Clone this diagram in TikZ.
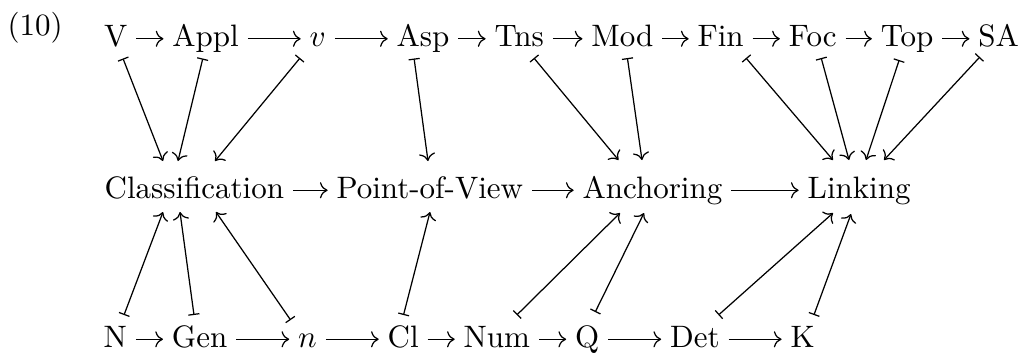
\documentclass[tikz,border=0pt]{standalone}
\usetikzlibrary{arrows.meta}
\begin{document}
\begin{tikzpicture}[x=0.32258pt,y=-0.32258pt,
  lbl/.style={inner sep=0pt,anchor=base west,text height=6.94pt,text depth=1.94pt},
  cmtip/.tip={Computer Modern Rightarrow},
  harr/.style={-cmtip,shorten <=2.7pt,shorten >=2.7pt},
  mapsto/.style={{Bar[width=3.6pt]}-cmtip}]
\useasboundingbox (0,0) rectangle (1023,352);

% example number
\node[lbl] (num) at (7,35) {(10)};

% verbal spine
\node[lbl] (V)    at (103.5,46.5) {V};
\node[lbl] (Appl) at (171.8,46.5) {Appl};
\node[lbl] (v)    at (309.0,46.5) {$v$};
\node[lbl] (Asp)  at (396.1,46.5) {Asp};
\node[lbl] (Tns)  at (493.9,46.5) {Tns};
\node[lbl] (Mod)  at (590.8,46.5) {Mod};
\node[lbl] (Fin)  at (697.0,46.5) {Fin};
\node[lbl] (Foc)  at (788.2,46.5) {Foc};
\node[lbl] (Top)  at (880.2,46.5) {Top};
\node[lbl] (SA)   at (977.8,46.5) {SA};

% universal spine
\node[lbl] (Cls) at (104,198) {Classification};
\node[lbl] (PoV) at (336,198) {Point-of-View};
\node[lbl] (Anc) at (582,198) {Anchoring};
\node[lbl] (Lnk) at (807,198) {Linking};

% nominal spine
\node[lbl] (N)   at (103,347)   {N};
\node[lbl] (Gen) at (171.3,347) {Gen};
\node[lbl] (n)   at (297.6,347) {$n$};
\node[lbl] (Cl)  at (387.1,347) {Cl};
\node[lbl] (Num) at (463.1,347) {Num};
\node[lbl] (Q)   at (574.5,347) {Q};
\node[lbl] (Det) at (669.5,347) {Det};
\node[lbl] (K)   at (789.9,347) {K};

% horizontal arrows
\draw[harr] (V) -- (Appl);
\draw[harr] (Appl) -- (v);
\draw[harr] (v) -- (Asp);
\draw[harr] (Asp) -- (Tns);
\draw[harr] (Tns) -- (Mod);
\draw[harr] (Mod) -- (Fin);
\draw[harr] (Fin) -- (Foc);
\draw[harr] (Foc) -- (Top);
\draw[harr] (Top) -- (SA);

\draw[harr] (Cls) -- (PoV);
\draw[harr] (PoV) -- (Anc);
\draw[harr] (Anc) -- (Lnk);

\draw[harr] (N) -- (Gen);
\draw[harr] (Gen) -- (n);
\draw[harr] (n) -- (Cl);
\draw[harr] (Cl) -- (Num);
\draw[harr] (Num) -- (Q);
\draw[harr] (Q) -- (Det);
\draw[harr] (Det) -- (K);

% verbal heads to universal categories
\draw[mapsto] ([shift={(19.5,12)}]V.base west)   -- ([shift={(59,-37)}]Cls.base west);
\draw[mapsto] ([shift={(31,12)}]Appl.base west)  -- ([shift={(74,-37)}]Cls.base west);
\draw[mapsto] ([shift={(-9,11.5)}]v.base west)   -- ([shift={(111,-37)}]Cls.base west);
\draw[mapsto] ([shift={(18,12)}]Asp.base west)   -- ([shift={(92,-37)}]PoV.base west);
\draw[mapsto] ([shift={(40,11.5)}]Tns.base west) -- ([shift={(36.5,-38)}]Anc.base west);
\draw[mapsto] ([shift={(36.6,11.5)}]Mod.base west) -- ([shift={(60,-38)}]Anc.base west);
\draw[mapsto] ([shift={(49,11.5)}]Fin.base west) -- ([shift={(26,-38)}]Lnk.base west);
\draw[mapsto] ([shift={(33,11.5)}]Foc.base west) -- ([shift={(42,-38)}]Lnk.base west);
\draw[mapsto] ([shift={(19,13.5)}]Top.base west) -- ([shift={(59,-38)}]Lnk.base west);
\draw[mapsto] ([shift={(2,10.5)}]SA.base west)   -- ([shift={(77,-38)}]Lnk.base west);

% nominal heads to universal categories
\draw[mapsto] ([shift={(21,-32)}]N.base west)     -- ([shift={(59,14)}]Cls.base west);
\draw[mapsto] ([shift={(22.7,-32)}]Gen.base west) -- ([shift={(76,14)}]Cls.base west);
\draw[mapsto] ([shift={(-7,-27)}]n.base west)     -- ([shift={(112,14)}]Cls.base west);
\draw[mapsto] ([shift={(16.4,-32)}]Cl.base west)  -- ([shift={(94,14)}]PoV.base west);
\draw[mapsto] ([shift={(53.7,-32)}]Num.base west) -- ([shift={(38,15)}]Anc.base west);
\draw[mapsto] ([shift={(20.7,-35)}]Q.base west)   -- ([shift={(62,15)}]Anc.base west);
\draw[mapsto] ([shift={(49,-32)}]Det.base west)   -- ([shift={(26,15)}]Lnk.base west);
\draw[mapsto] ([shift={(24,-32)}]K.base west)     -- ([shift={(44,16)}]Lnk.base west);
\end{tikzpicture}
\end{document}
